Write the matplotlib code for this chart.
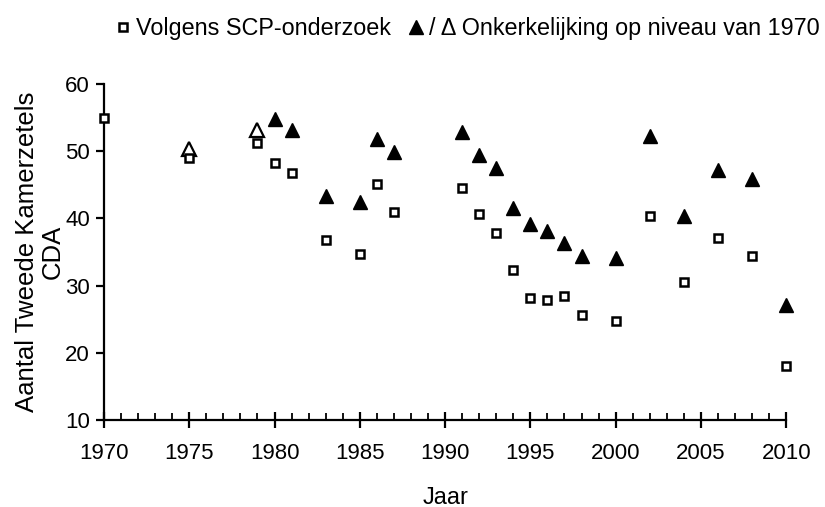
import numpy as np
import matplotlib
matplotlib.use('Agg')
import matplotlib.pyplot as plt
from matplotlib.ticker import MultipleLocator

plt.rcParams['font.family'] = ['Liberation Sans', 'DejaVu Sans']
plt.rcParams['font.size'] = 16

# Volgens SCP-onderzoek
scp_years = [1970, 1975, 1979, 1980, 1981, 1983, 1985, 1986, 1987, 1991, 1992, 1993,
             1994, 1995, 1996, 1997, 1998, 2000, 2002, 2004, 2006, 2008, 2010]
scp_seats = [55.0, 49.0, 51.2, 48.2, 46.8, 36.8, 34.7, 45.1, 40.9, 44.6, 40.6, 37.9,
             32.3, 28.2, 27.9, 28.4, 25.6, 24.7, 40.3, 30.6, 37.1, 34.4, 18.0]

# Onkerkelijking op niveau van 1970 (gevuld)
onk_years = [1980, 1981, 1983, 1985, 1986, 1987, 1991, 1992, 1993, 1994, 1995, 1996,
             1997, 1998, 2000, 2002, 2004, 2006, 2008, 2010]
onk_seats = [54.8, 53.1, 43.3, 42.4, 51.8, 49.9, 52.8, 49.4, 47.5, 41.6, 39.2, 38.1,
             36.4, 34.4, 34.1, 52.3, 40.3, 47.2, 45.8, 27.1]

# open driehoeken
open_years = [1975, 1979]
open_seats = [50.3, 53.1]

fig = plt.figure(figsize=(8.25, 5.07), dpi=100)
ax = fig.add_axes([0.126, 0.172, 0.827, 0.662])

ax.plot(open_years, open_seats, linestyle='none', marker='^', markersize=10,
        mfc='white', mec='black', mew=1.6, clip_on=False, zorder=3)
ax.plot(onk_years, onk_seats, linestyle='none', marker='^', markersize=10,
        mfc='black', mec='black', mew=1.0, clip_on=False, zorder=3,
        label='/ \u0394 Onkerkelijking op niveau van 1970')
ax.plot(scp_years, scp_seats, linestyle='none', marker='s', markersize=6,
        mfc='white', mec='black', mew=1.8, clip_on=False, zorder=4,
        label='Volgens SCP-onderzoek')

ax.set_xlim(1970, 2010)
ax.set_ylim(10, 60)
ax.xaxis.set_major_locator(MultipleLocator(5))
ax.xaxis.set_minor_locator(MultipleLocator(1))
ax.yaxis.set_major_locator(MultipleLocator(10))

for s in ['top', 'right']:
    ax.spines[s].set_visible(False)
for s in ['left', 'bottom']:
    ax.spines[s].set_linewidth(1.6)

ax.tick_params(axis='x', which='major', direction='inout', length=12, width=1.6, pad=11)
ax.tick_params(axis='x', which='minor', direction='in', length=5, width=1.3)
ax.tick_params(axis='y', which='major', direction='out', length=6, width=1.6, pad=4)

ax.set_xlabel('Jaar', labelpad=16, fontsize=17)
ax.set_ylabel('Aantal Tweede Kamerzetels\nCDA', labelpad=0, linespacing=1.1,
              fontsize=18.5)

h, l = ax.get_legend_handles_labels()
fig.legend(h[::-1], l[::-1], loc='center', bbox_to_anchor=(0.565, 0.943), ncol=2,
           frameon=False, handletextpad=0.1, columnspacing=0.6, handlelength=0.9,
           borderpad=0, fontsize=16.8)

fig.savefig('out.png', dpi=100)
